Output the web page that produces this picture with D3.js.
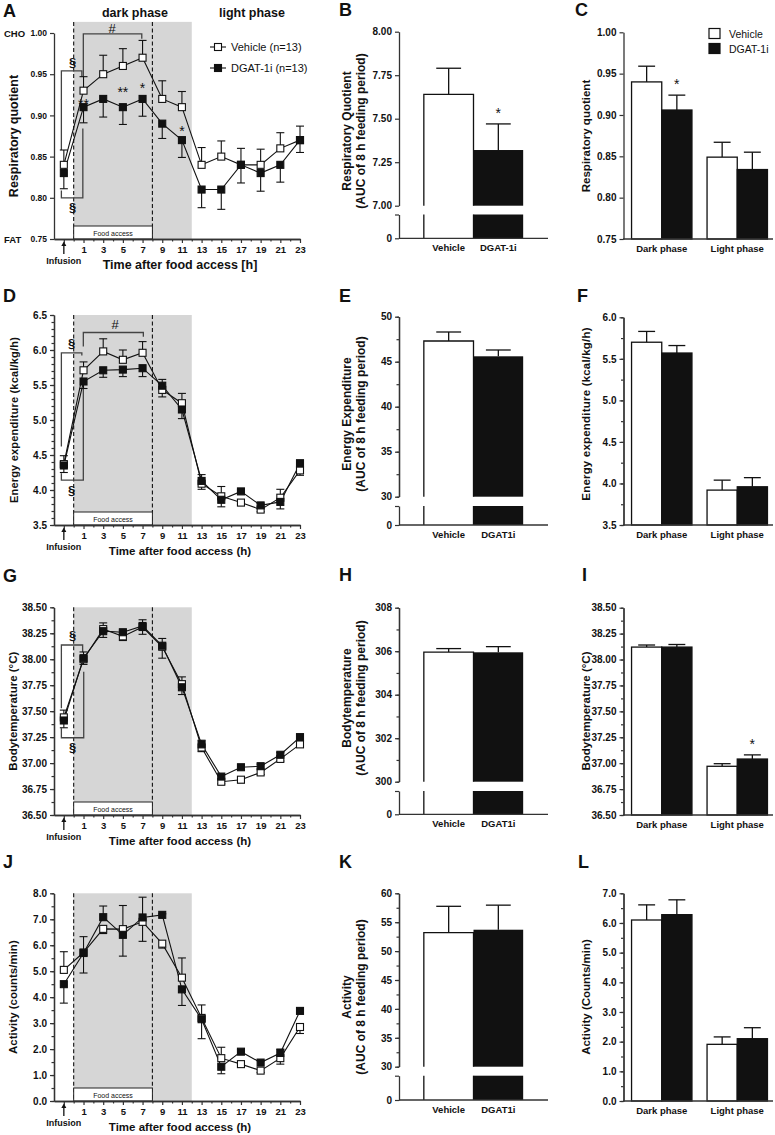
<!DOCTYPE html>
<html><head><meta charset="utf-8">
<script src="https://cdn.jsdelivr.net/npm/d3@7/dist/d3.min.js"></script>
<style>
html,body{margin:0;padding:0;background:#fff;}
svg text{font-family:"Liberation Sans",Arial,Helvetica,sans-serif;fill:#111;}
</style></head>
<body>
<svg id="fig" width="775" height="1135" xmlns="http://www.w3.org/2000/svg"></svg>
<script>
// ================= DATA =================
const hours = [-1, 1, 3, 5, 7, 9, 11, 13, 15, 17, 19, 21, 23];
const hourTicks = [-1, 1, 3, 5, 7, 9, 11, 13, 15, 17, 19, 21, 23];
const treatmentsB = ["Vehicle", "DGAT-1i"];
const treatments = ["Vehicle", "DGAT1i"];
const phases = ["Dark phase", "Light phase"];

// A: respiratory quotient (time course)
const rqVehicle    = [0.84, 0.93, 0.95, 0.96, 0.97, 0.92, 0.91, 0.84, 0.85, 0.84, 0.84, 0.86, 0.87];
const rqVehicleSem = [0.018, 0.017, 0.023, 0.021, 0.021, 0.022, 0.019, 0.021, 0.019, 0.020, 0.019, 0.019, 0.017];
const rqDgat       = [0.83, 0.91, 0.92, 0.91, 0.92, 0.89, 0.87, 0.81, 0.81, 0.84, 0.83, 0.84, 0.87];
const rqDgatSem    = [0.019, 0.019, 0.022, 0.021, 0.021, 0.018, 0.021, 0.022, 0.024, 0.022, 0.022, 0.021, 0.015];
const rqTicks = [0.75, 0.80, 0.85, 0.90, 0.95, 1.00];
// B: RQ AUC
const rqAuc = [7.64, 7.32];
const rqAucSem = [0.15, 0.15];
const rqAucTicks = [7.00, 7.25, 7.50, 7.75, 8.00];
// C: RQ by phase
const rqPhaseVehicle = [0.940, 0.849];
const rqPhaseVehicleSem = [0.019, 0.018];
const rqPhaseDgat = [0.906, 0.834];
const rqPhaseDgatSem = [0.018, 0.021];

// D: energy expenditure (time course)
const eeVehicle    = [4.37, 5.71, 5.98, 5.86, 5.96, 5.43, 5.24, 4.09, 3.91, 3.82, 3.72, 3.89, 4.28];
const eeVehicleSem = [0.12, 0.12, 0.18, 0.14, 0.16, 0.10, 0.14, 0.08, 0.14, 0.03, 0.03, 0.12, 0.07];
const eeDgat       = [4.35, 5.55, 5.71, 5.72, 5.74, 5.49, 5.15, 4.13, 3.86, 3.98, 3.78, 3.83, 4.38];
const eeDgatSem    = [0.10, 0.10, 0.10, 0.10, 0.12, 0.09, 0.13, 0.09, 0.10, 0.03, 0.03, 0.10, 0.05];
const eeTicks = [3.5, 4.0, 4.5, 5.0, 5.5, 6.0, 6.5];
// E: EE AUC
const eeAuc = [47.3, 45.6];
const eeAucSem = [1.0, 0.7];
const eeAucTicks = [30, 35, 40, 45, 50];
// F: EE by phase
const eePhaseVehicle = [5.70, 3.92];
const eePhaseVehicleSem = [0.13, 0.12];
const eePhaseDgat = [5.57, 3.96];
const eePhaseDgatSem = [0.09, 0.11];
const eePhaseTicks = [3.5, 4.0, 4.5, 5.0, 5.5, 6.0];

// G: body temperature (time course)
const btVehicle    = [37.44, 38.00, 38.29, 38.22, 38.31, 38.12, 37.76, 37.15, 36.82, 36.84, 36.91, 37.04, 37.18];
const btVehicleSem = [0.07, 0.05, 0.06, 0.04, 0.07, 0.11, 0.07, 0.04, 0.02, 0.03, 0.02, 0.02, 0.02];
const btDgat       = [37.41, 38.01, 38.27, 38.26, 38.32, 38.13, 37.73, 37.18, 36.87, 36.96, 36.97, 37.08, 37.25];
const btDgatSem    = [0.07, 0.06, 0.06, 0.02, 0.06, 0.07, 0.07, 0.04, 0.02, 0.02, 0.02, 0.02, 0.02];
const btTicks = [36.50, 36.75, 37.00, 37.25, 37.50, 37.75, 38.00, 38.25, 38.50];
// H: BT AUC
const btAuc = [305.96, 305.95];
const btAucSem = [0.16, 0.26];
const btAucTicks = [300, 302, 304, 306, 308];
// I: BT by phase
const btPhaseVehicle = [38.12, 36.97];
const btPhaseVehicleSem = [0.02, 0.025];
const btPhaseDgat = [38.12, 37.04];
const btPhaseDgatSem = [0.025, 0.04];

// J: activity (time course)
const actVehicle    = [5.05, 5.72, 6.63, 6.62, 6.90, 6.06, 4.75, 3.20, 1.65, 1.42, 1.17, 1.65, 2.85];
const actVehicleSem = [0.70, 0.61, 0.18, 0.91, 0.75, 0.17, 0.76, 0.50, 0.42, 0.08, 0.07, 0.23, 0.25];
const actDgat       = [4.50, 5.70, 7.08, 6.40, 7.07, 7.17, 4.30, 3.15, 1.32, 1.90, 1.48, 1.85, 3.47];
const actDgatSem    = [0.73, 0.77, 0.43, 0.82, 0.78, 0.04, 0.62, 0.75, 0.27, 0.08, 0.07, 0.15, 0.08];
const actTicks = [0, 1, 2, 3, 4, 5, 6, 7, 8];
// K: activity AUC
const actAuc = [53.2, 53.7];
const actAucSem = [4.55, 4.25];
const actAucTicks = [30, 35, 40, 45, 50, 55, 60];
// L: activity by phase
const actPhaseVehicle = [6.10, 1.91];
const actPhaseVehicleSem = [0.51, 0.25];
const actPhaseDgat = [6.28, 2.10];
const actPhaseDgatSem = [0.50, 0.37];
const actPhaseTicks = [0, 1, 2, 3, 4, 5, 6, 7];

// ================= DRAWING =================
const svg = d3.select("#fig");
const INK = "#111";
const AX = "#333";
const xT = d3.scaleLinear().domain([-2, 23]).range([54, 300]);

function styleAxis(g, fs) {
  g.select(".domain").attr("stroke", AX).attr("stroke-width", 1.3);
  g.selectAll(".tick line").attr("stroke", AX).attr("stroke-width", 1.2);
  g.selectAll(".tick text").attr("font-weight", "bold").attr("font-size", fs).attr("fill", INK)
    .attr("font-family", '"Liberation Sans",Arial,sans-serif');
}
function txt(g, x, y, s, o) {
  o = o || {};
  const t = g.append("text").attr("x", x).attr("y", y).text(s)
    .attr("font-size", o.size || 12).attr("font-weight", o.weight || "bold")
    .attr("text-anchor", o.anchor || "start").attr("fill", INK);
  if (o.rotate) t.attr("transform", `rotate(-90,${x},${y})`);
  if (o.dy) t.attr("dy", o.dy);
  if (o.ls) t.attr("letter-spacing", o.ls);
  return t;
}
function letter(s, x, y) { txt(svg, x, y, s, {size: 18}); }

function linePanel(c) {
  const g = svg.append("g");
  const y = d3.scaleLinear().domain(c.domain).range(c.range);
  const base = c.range[0];
  const top = y(c.shadeTop);
  g.append("rect").attr("x", xT(0)).attr("y", top).attr("width", xT(12) - xT(0))
    .attr("height", base - top).attr("fill", "#d6d6d6");
  [0, 8].forEach(t => g.append("line").attr("x1", xT(t)).attr("x2", xT(t))
    .attr("y1", top).attr("y2", base).attr("stroke", INK).attr("stroke-width", 1.1)
    .attr("stroke-dasharray", "4,2.5"));
  g.append("rect").attr("x", xT(0)).attr("y", base - 13).attr("width", xT(8) - xT(0))
    .attr("height", 13).attr("fill", "#fff").attr("stroke", "#222").attr("stroke-width", 1);
  txt(g, (xT(0) + xT(8)) / 2, base - 3.5, "Food access", {size: 7, weight: "normal", anchor: "middle"});

  // brackets & annotation text
  const bl = d3.line().x(d => xT(d[0])).y(d => y(d[1]));
  (c.brackets || []).forEach(b => g.append("path").attr("d", bl(b)).attr("fill", "none")
    .attr("stroke", "#444").attr("stroke-width", 1.3));
  (c.notes || []).forEach(n => txt(g, xT(n[0]), y(n[1]), n[2],
    {size: n[3], weight: n[2] === "§" ? "bold" : "normal", anchor: "middle", dy: n[2].indexOf("*") >= 0 ? "0.62em" : "0.36em"}));

  const series = [
    {vals: c.veh, sem: c.vehSem, fill: "#fff"},
    {vals: c.dg, sem: c.dgSem, fill: INK}
  ];
  // error bars (pointing away from the other group)
  series.forEach((s, si) => {
    const o = series[1 - si];
    hours.forEach((h, i) => {
      const up = si === 0 ? s.vals[i] >= o.vals[i] : s.vals[i] > o.vals[i];
      const e = up ? s.vals[i] + s.sem[i] : s.vals[i] - s.sem[i];
      g.append("line").attr("x1", xT(h)).attr("x2", xT(h)).attr("y1", y(s.vals[i])).attr("y2", y(e))
        .attr("stroke", INK).attr("stroke-width", 1.1);
      g.append("line").attr("x1", xT(h) - 4).attr("x2", xT(h) + 4).attr("y1", y(e)).attr("y2", y(e))
        .attr("stroke", INK).attr("stroke-width", 1.1);
    });
  });
  const ln = d3.line().x((d, i) => xT(hours[i])).y(d => y(d));
  series.forEach(s => g.append("path").attr("d", ln(s.vals)).attr("fill", "none")
    .attr("stroke", INK).attr("stroke-width", 1.1));
  series.forEach(s => g.selectAll(null).data(s.vals).enter().append("rect")
    .attr("x", (d, i) => xT(hours[i]) - 3.5).attr("y", d => y(d) - 3.5)
    .attr("width", 7).attr("height", 7).attr("fill", s.fill).attr("stroke", INK).attr("stroke-width", 1.1));

  // axes
  const ax = g.append("g").attr("transform", `translate(0,${base})`)
    .call(d3.axisBottom(xT).tickValues(hourTicks).tickSize(4).tickSizeOuter(0).tickFormat(d => d < 0 ? "" : d));
  styleAxis(ax, 9.5);
  const axm = g.append("g").attr("transform", `translate(0,${base})`)
    .call(d3.axisBottom(xT).tickValues(d3.range(0, 23, 2)).tickSize(2.5).tickSizeOuter(0).tickFormat(""));
  styleAxis(axm, 9);
  const ay = g.append("g").attr("transform", `translate(${xT(-2)},0)`)
    .call(d3.axisLeft(y).tickValues(c.ticks).tickSize(4).tickSizeOuter(0).tickFormat(d3.format(c.fmt)));
  styleAxis(ay, c.tickSize);
  if (c.minor) {
    const aym = g.append("g").attr("transform", `translate(${xT(-2)},0)`)
      .call(d3.axisLeft(y).tickValues(d3.range(c.domain[0], c.domain[1] + 1e-9, c.minor)).tickSize(2.5).tickSizeOuter(0).tickFormat(""));
    styleAxis(aym, 9);
  }
  // infusion arrow
  const xi = xT(-1);
  g.append("line").attr("x1", xi).attr("x2", xi).attr("y1", base + 15).attr("y2", base + 6)
    .attr("stroke", INK).attr("stroke-width", 1.3);
  g.append("path").attr("d", `M${xi - 2.5},${base + 7}L${xi},${base + 2.5}L${xi + 2.5},${base + 7}Z`).attr("fill", INK);
  txt(g, xi, base + 25, "Infusion", {size: 9, anchor: "middle"});
  txt(g, 180, base + 30, c.xTitle, {size: c.xTitleSize, anchor: "middle"});
  txt(g, 17.5, (c.range[0] + c.range[1]) / 2, c.yTitle, {size: c.yTitleSize, anchor: "middle", rotate: true, ls: c.ls});
  return {g, y};
}

function aucPanel(c) {
  const g = svg.append("g");
  const yU = d3.scaleLinear().domain(c.domain).range(c.range);
  const yL = d3.scaleLinear().domain([0, 1]).range([c.zero, c.lowerTop]);
  const x = d3.scaleBand().domain(c.labels).range([399, 548]).paddingInner(0).paddingOuter(0.5);
  const w = x.bandwidth();
  const brk = yU(c.domain[0]);
  c.values.forEach((v, i) => {
    const x0 = x(c.labels[i]);
    const e = yU(v + c.sems[i]);
    g.append("line").attr("x1", x0 + w / 2).attr("x2", x0 + w / 2).attr("y1", yU(v)).attr("y2", e)
      .attr("stroke", INK).attr("stroke-width", 1.3);
    g.append("line").attr("x1", x0 + w / 4).attr("x2", x0 + 3 * w / 4).attr("y1", e).attr("y2", e)
      .attr("stroke", INK).attr("stroke-width", 1.3);
    if (i === 1) {
      g.append("rect").attr("x", x0).attr("y", yU(v)).attr("width", w).attr("height", brk - yU(v)).attr("fill", INK);
      g.append("rect").attr("x", x0).attr("y", yL(1)).attr("width", w).attr("height", yL(0) - yL(1)).attr("fill", INK);
    } else {
      g.append("path").attr("d", `M${x0},${brk}V${yU(v)}H${x0 + w}V${brk}`).attr("fill", "#fff")
        .attr("stroke", INK).attr("stroke-width", 1.3);
      g.append("path").attr("d", `M${x0},${yL(1)}V${yL(0)}M${x0 + w},${yL(1)}V${yL(0)}`)
        .attr("stroke", INK).attr("stroke-width", 1.3);
    }
  });
  const ay = g.append("g").attr("transform", "translate(399,0)")
    .call(d3.axisLeft(yU).tickValues(c.ticks).tickSize(4).tickSizeOuter(0).tickFormat(d3.format(c.fmt)));
  styleAxis(ay, 10);
  if (c.minor) {
    const aym = g.append("g").attr("transform", "translate(399,0)")
      .call(d3.axisLeft(yU).tickValues(d3.range(c.domain[0], c.domain[1] + 1e-9, c.minor)).tickSize(2.5).tickSizeOuter(0).tickFormat(""));
    styleAxis(aym, 9);
  }
  const al = g.append("g").attr("transform", "translate(399,0)")
    .call(d3.axisLeft(yL).tickValues([0, 1]).tickSize(4).tickSizeOuter(0).tickFormat(d => d === 0 ? "0" : ""));
  styleAxis(al, 10);
  g.append("line").attr("x1", 399).attr("x2", 548).attr("y1", c.zero).attr("y2", c.zero)
    .attr("stroke", AX).attr("stroke-width", 1.3);
  c.labels.forEach(l => txt(g, x(l) + w / 2, c.zero + 13, l, {size: 9.5, anchor: "middle"}));
  txt(g, 351, c.titleY, c.title[0], {size: 12, anchor: "middle", rotate: true});
  txt(g, 365, c.titleY, c.title[1], {size: 12, anchor: "middle", rotate: true});
  if (c.star !== undefined) {
    const i = c.star;
    txt(g, x(c.labels[i]) + w / 2, yU(c.values[i] + c.sems[i]) - 15, "*", {size: 14, weight: "normal", anchor: "middle", dy: "0.62em"});
  }
}

function phasePanel(c) {
  const g = svg.append("g");
  const y = d3.scaleLinear().domain(c.domain).range(c.range);
  const x = d3.scaleBand().domain(phases).range([624, 775]).paddingInner(0.2).paddingOuter(0.1);
  const xs = d3.scaleBand().domain(["Vehicle", "DGAT-1i"]).range([0, x.bandwidth()]);
  const w = xs.bandwidth();
  const groups = [
    {name: "Vehicle", vals: c.veh, sem: c.vehSem, fill: "#fff"},
    {name: "DGAT-1i", vals: c.dg, sem: c.dgSem, fill: INK}
  ];
  groups.forEach(s => phases.forEach((p, i) => {
    const x0 = x(p) + xs(s.name);
    const e = y(s.vals[i] + s.sem[i]);
    g.append("line").attr("x1", x0 + w / 2).attr("x2", x0 + w / 2).attr("y1", y(s.vals[i])).attr("y2", e)
      .attr("stroke", INK).attr("stroke-width", 1.3);
    g.append("line").attr("x1", x0 + w * 0.22).attr("x2", x0 + w * 0.78).attr("y1", e).attr("y2", e)
      .attr("stroke", INK).attr("stroke-width", 1.3);
    g.append("rect").attr("x", x0).attr("y", y(s.vals[i])).attr("width", w)
      .attr("height", y(c.domain[0]) - y(s.vals[i])).attr("fill", s.fill)
      .attr("stroke", INK).attr("stroke-width", 1.3);
  }));
  const ay = g.append("g").attr("transform", "translate(623.5,0)")
    .call(d3.axisLeft(y).tickValues(c.ticks).tickSize(4).tickSizeOuter(0).tickFormat(d3.format(c.fmt)));
  styleAxis(ay, 10);
  if (c.minor) {
    const aym = g.append("g").attr("transform", "translate(623.5,0)")
      .call(d3.axisLeft(y).tickValues(d3.range(c.domain[0], c.domain[1] + 1e-9, c.minor)).tickSize(2.5).tickSizeOuter(0).tickFormat(""));
    styleAxis(aym, 9);
  }
  g.append("line").attr("x1", 623).attr("x2", 773).attr("y1", c.range[0]).attr("y2", c.range[0])
    .attr("stroke", AX).attr("stroke-width", 1.3);
  phases.forEach(p => txt(g, x(p) + x.bandwidth() / 2, c.range[0] + 13, p, {size: 9.5, anchor: "middle"}));
  txt(g, 589.5, c.titleY, c.title, {size: 11.5, anchor: "middle", rotate: true, ls: c.ls});
  if (c.star) {
    const [gi, pi] = c.star;
    const s = groups[gi];
    txt(g, x(phases[pi]) + xs(s.name) + w / 2, y(s.vals[pi] + s.sem[pi]) - 15, "*",
      {size: 14, weight: "normal", anchor: "middle", dy: "0.62em"});
  }
  if (c.legend) {
    groups.forEach((s, i) => {
      g.append("rect").attr("x", 709).attr("y", 28.5 + i * 15).attr("width", 11).attr("height", 10)
        .attr("fill", s.fill).attr("stroke", INK).attr("stroke-width", 1.2);
      txt(g, 729, 37.5 + i * 15, s.name, {size: 10.5, weight: "normal"});
    });
  }
}

// ---------- Row 1 ----------
letter("A", 3, 17); letter("B", 339, 16); letter("C", 575, 16);
txt(svg, 135, 17, "dark phase", {size: 12.5, anchor: "middle"});
txt(svg, 252, 17, "light phase", {size: 12.5, anchor: "middle"});
txt(svg, 4, 36.5, "CHO", {size: 9.5});
txt(svg, 4, 242.5, "FAT", {size: 9.5});
linePanel({
  domain: [0.75, 1.0], range: [239, 33], shadeTop: 1.0135,
  veh: rqVehicle, vehSem: rqVehicleSem, dg: rqDgat, dgSem: rqDgatSem,
  ticks: rqTicks, fmt: ".2f", tickSize: 8.5, minor: null,
  xTitle: "Time after food access [h]", xTitleSize: 12.5,
  yTitle: "Respiratory quotient", yTitleSize: 12.5,
  brackets: [
    [[-1.25, 0.858], [-1.25, 0.954], [0.83, 0.954], [0.83, 0.947]],
    [[-1.25, 0.809], [-1.25, 0.80], [0.93, 0.80], [0.93, 0.884]],
    [[0.98, 0.947], [0.98, 0.999], [6.92, 0.999], [6.92, 0.993]]
  ],
  notes: [
    [-0.1, 0.965, "§", 13], [-0.1, 0.789, "§", 13], [3.9, 1.006, "#", 13],
    [1, 0.918, "**", 14], [5, 0.933, "**", 14], [7, 0.938, "*", 14], [11, 0.886, "*", 14]
  ]
});
// legend A
[["Vehicle (n=13)", "#fff", 47], ["DGAT-1i (n=13)", INK, 68]].forEach(d => {
  svg.append("line").attr("x1", 210).attr("x2", 226).attr("y1", d[2]).attr("y2", d[2]).attr("stroke", INK).attr("stroke-width", 1.1);
  svg.append("rect").attr("x", 214.5).attr("y", d[2] - 3.5).attr("width", 7).attr("height", 7)
    .attr("fill", d[1]).attr("stroke", INK).attr("stroke-width", 1.1);
  txt(svg, 231, d[2] + 4, d[0], {size: 11, weight: "normal"});
});
aucPanel({
  domain: [7.0, 8.0], range: [205.7, 31.7], lowerTop: 214.5, zero: 238.3,
  values: rqAuc, sems: rqAucSem, labels: treatmentsB, ticks: rqAucTicks, fmt: ".2f", minor: null,
  title: ["Respiratory Quotient", "(AUC of 8 h feeding period)"], titleY: 131, star: 1
});
phasePanel({
  domain: [0.75, 1.0], range: [239, 32.3], ticks: rqTicks, fmt: ".2f", minor: null,
  veh: rqPhaseVehicle, vehSem: rqPhaseVehicleSem, dg: rqPhaseDgat, dgSem: rqPhaseDgatSem,
  title: "Respiratory quotient", titleY: 136, star: [1, 0], legend: true
});

// ---------- Row 2 ----------
letter("D", 3, 301.5); letter("E", 339, 301.5); letter("F", 577, 301.5);
linePanel({
  domain: [3.5, 6.5], range: [525, 315], shadeTop: 6.5,
  veh: eeVehicle, vehSem: eeVehicleSem, dg: eeDgat, dgSem: eeDgatSem,
  ticks: eeTicks, fmt: ".1f", tickSize: 10, minor: 0.1,
  xTitle: "Time after food access (h)", xTitleSize: 11.5,
  yTitle: "Energy expenditure (kcal/kg/h)", yTitleSize: 11, ls: 0.2,
  brackets: [
    [[-1.25, 4.62], [-1.25, 5.96], [0.83, 5.96], [0.83, 5.92]],
    [[-1.25, 4.24], [-1.25, 4.14], [0.98, 4.14], [0.98, 5.45]],
    [[0.98, 6.05], [0.98, 6.25], [7.08, 6.25], [7.08, 6.19]]
  ],
  notes: [[-0.2, 6.095, "§", 13], [-0.2, 4.0, "§", 13], [4.2, 6.36, "#", 13]]
});
aucPanel({
  domain: [30, 50], range: [496.7, 316.7], lowerTop: 506, zero: 525,
  values: eeAuc, sems: eeAucSem, labels: treatments, ticks: eeAucTicks, fmt: "d", minor: 2.5,
  title: ["Energy Expenditure", "(AUC of 8 h feeding period)"], titleY: 414
});
phasePanel({
  domain: [3.5, 6.0], range: [525, 317.3], ticks: eePhaseTicks, fmt: ".1f", minor: 0.25,
  veh: eePhaseVehicle, vehSem: eePhaseVehicleSem, dg: eePhaseDgat, dgSem: eePhaseDgatSem,
  title: "Energy expenditure (kcal/kg/h)", titleY: 414, ls: 0.2
});

// ---------- Row 3 ----------
letter("G", 3, 581.5); letter("H", 339, 581); letter("I", 582, 581);
linePanel({
  domain: [36.5, 38.5], range: [815, 607.3], shadeTop: 38.5,
  veh: btVehicle, vehSem: btVehicleSem, dg: btDgat, dgSem: btDgatSem,
  ticks: btTicks, fmt: ".2f", tickSize: 10, minor: 0.125,
  xTitle: "Time after food access (h)", xTitleSize: 11.5,
  yTitle: "Bodytemperature (°C)", yTitleSize: 11.5,
  brackets: [
    [[-1.25, 37.527], [-1.25, 38.137], [0.91, 38.137], [0.91, 38.067]],
    [[-1.25, 37.335], [-1.25, 37.244], [1.02, 37.244], [1.02, 37.88]]
  ],
  notes: [[-0.1, 38.233, "§", 13], [-0.1, 37.148, "§", 13]]
});
aucPanel({
  domain: [300, 308], range: [781.7, 607.7], lowerTop: 791, zero: 814.3,
  values: btAuc, sems: btAucSem, labels: treatments, ticks: btAucTicks, fmt: "d", minor: 1,
  title: ["Bodytemperature", "(AUC of 8 h feeding period)"], titleY: 698
});
phasePanel({
  domain: [36.5, 38.5], range: [815, 607.7], ticks: btTicks, fmt: ".2f", minor: 0.125,
  veh: btPhaseVehicle, vehSem: btPhaseVehicleSem, dg: btPhaseDgat, dgSem: btPhaseDgatSem,
  title: "Bodytemperature (°C)", titleY: 711, star: [1, 1]
});

// ---------- Row 4 ----------
letter("J", 3, 868); letter("K", 339, 868); letter("L", 578, 868);
linePanel({
  domain: [0, 8], range: [1101, 893.3], shadeTop: 8,
  veh: actVehicle, vehSem: actVehicleSem, dg: actDgat, dgSem: actDgatSem,
  ticks: actTicks, fmt: ".1f", tickSize: 10, minor: 0.5,
  xTitle: "Time after food access (h)", xTitleSize: 11.5,
  yTitle: "Activity (counts/min)", yTitleSize: 11.5
});
aucPanel({
  domain: [30, 60], range: [1066.7, 893.3], lowerTop: 1075.7, zero: 1100,
  values: actAuc, sems: actAucSem, labels: treatments, ticks: actAucTicks, fmt: "d", minor: 2.5,
  title: ["Activity", "(AUC of 8 h feeding period)"], titleY: 997
});
phasePanel({
  domain: [0, 7], range: [1101, 893.3], ticks: actPhaseTicks, fmt: ".1f", minor: 0.5,
  veh: actPhaseVehicle, vehSem: actPhaseVehicleSem, dg: actPhaseDgat, dgSem: actPhaseDgatSem,
  title: "Activity (Counts/min)", titleY: 997
});
</script>
</body></html>
